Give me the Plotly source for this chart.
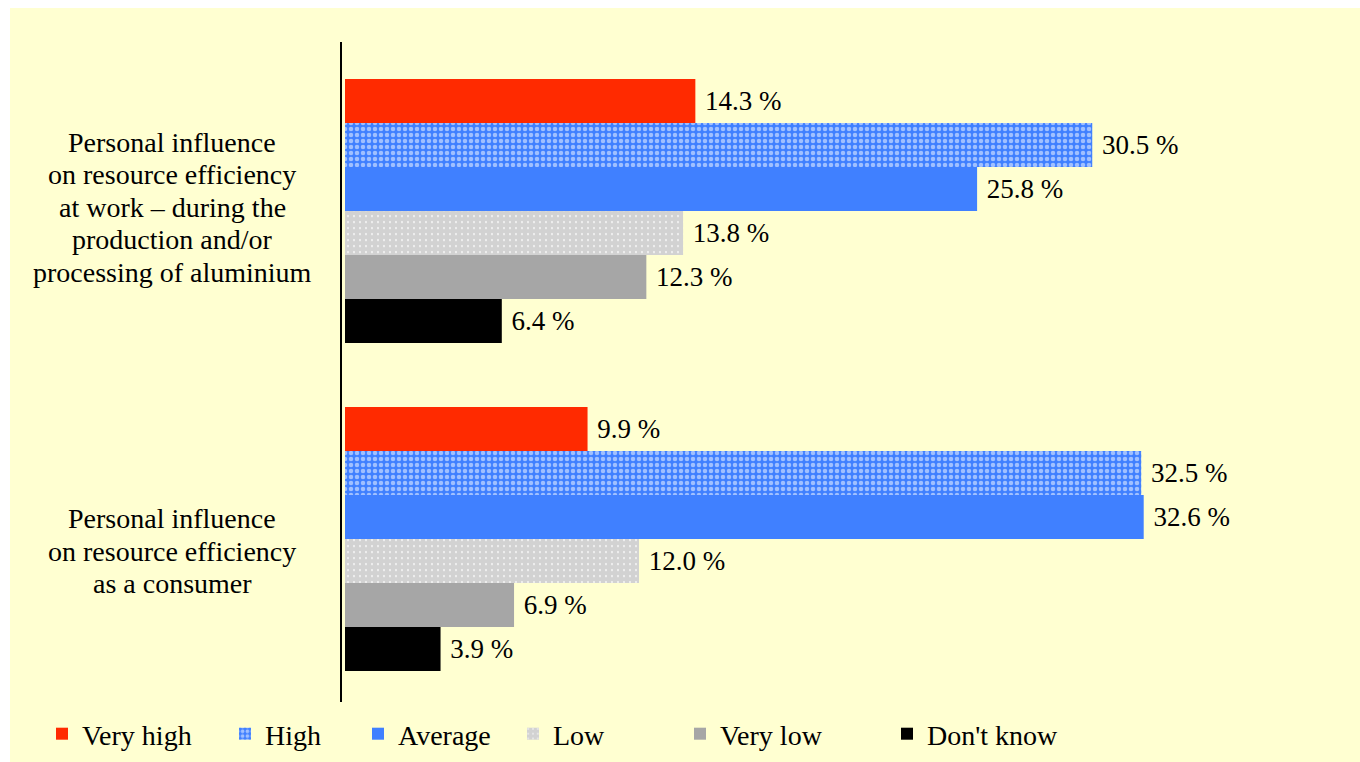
import plotly.graph_objects as go

# Survey categories (y axis) and answer shares in percent
categories = [
    "Personal influence<br>on resource efficiency<br>at work – during the<br>production and/or<br>processing of aluminium",
    "Personal influence<br>on resource efficiency<br>as a consumer",
]
very_high = [14.3, 9.9]
high = [30.5, 32.5]
average = [25.8, 32.6]
low = [13.8, 12.0]
very_low = [12.3, 6.9]
dont_know = [6.4, 3.9]

series_names = ["Very high", "High", "Average", "Low", "Very low", "Don't know"]
series_values = [very_high, high, average, low, very_low, dont_know]

W, H = 1360, 762
FONT = "Liberation Serif, Times New Roman, serif"
CREAM = "#FFFFD1"
RED = "#FF2A00"
BLUE = "#4080FF"
GREY = "#A6A6A6"

styles = [
    dict(color=RED),
    dict(color=BLUE, pattern=dict(shape=".", bgcolor=BLUE, fgcolor="white",
                                  size=6, solidity=0.45)),
    dict(color=BLUE),
    dict(color=GREY, pattern=dict(shape=".", bgcolor="white", fgcolor=GREY,
                                  size=6, solidity=0.85)),
    dict(color=GREY),
    dict(color="black"),
]

# legend text start positions (px) across the bottom row
legend_text_x = [82, 265, 398, 553, 720, 927]

fig = go.Figure()
for i, (name, vals, st) in enumerate(zip(series_names, series_values, styles)):
    lid = "legend" if i == 0 else f"legend{i + 1}"
    fig.add_trace(go.Bar(
        y=categories, x=vals, name=name, orientation="h",
        marker=dict(line=dict(width=0), **st),
        texttemplate="\u00a0%{x:.1f} %", textposition="outside",
        textfont=dict(family=FONT, size=27, color="black"),
        cliponaxis=False, constraintext="none",
        legend=lid, hoverinfo="skip",
    ))

layout_legends = {}
for i, tx in enumerate(legend_text_x):
    lid = "legend" if i == 0 else f"legend{i + 1}"
    layout_legends[lid] = dict(
        xref="container", yref="container",
        x=(tx - 40) / W, y=1 - 734 / H, xanchor="left", yanchor="middle",
        orientation="h", bgcolor="rgba(0,0,0,0)",
        font=dict(family=FONT, size=28, color="black"),
    )

L, T, B = 342, 42, 60
plot_w = W - L
plot_h = H - T - B
px_per_pct = 24.5
x0 = -3 / px_per_pct
x1 = x0 + plot_w / px_per_pct

# vertical scale: 328 px per category, group centres slightly below mid-plot
px_per_cat = 328
centre_val = 0.5 - 3 / px_per_cat
half_span = plot_h / 2 / px_per_cat
y_range = [centre_val + half_span, centre_val - half_span]

fig.update_layout(
    width=W, height=H,
    margin=dict(l=L, r=0, t=T, b=B, pad=0),
    paper_bgcolor="white", plot_bgcolor="rgba(0,0,0,0)",
    barmode="group", bargap=0.195, bargroupgap=0,
    showlegend=True,
    font=dict(family=FONT, size=27, color="black"),
    xaxis=dict(range=[x0, x1], visible=False, fixedrange=True),
    yaxis=dict(range=y_range, showticklabels=False, ticks="",
               showgrid=False, zeroline=False, showline=True,
               linecolor="black", linewidth=1.5, fixedrange=True),
    **layout_legends,
)

# cream backdrop inside a thin white border
fig.add_shape(type="rect", xref="paper", yref="paper", layer="below",
              x0=(10 - L) / plot_w, x1=1.0,
              y0=-(B + 2) / plot_h, y1=1 + (T - 8) / plot_h,
              fillcolor=CREAM, line=dict(width=0))

# centred category labels to the left of the axis, one line at a time
line_step = 32.5
centre_shift = [4, -12]
for cat, cs in zip(categories, centre_shift):
    lines = cat.split("<br>")
    n = len(lines)
    for k, ln in enumerate(lines):
        fig.add_annotation(
            x=(172 - L) / plot_w, xref="paper", y=cat, yref="y",
            text=ln, showarrow=False, xanchor="center", yanchor="middle",
            yshift=cs + ((n - 1) / 2 - k) * line_step,
            font=dict(family=FONT, size=28, color="black"),
        )

fig.write_html("out.html")
